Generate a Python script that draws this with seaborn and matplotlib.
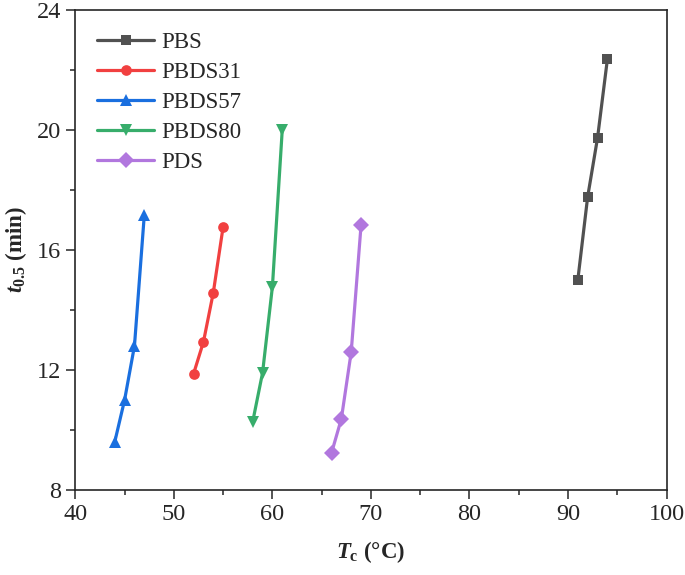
import numpy as np
import pandas as pd
import matplotlib
matplotlib.use("Agg")
import matplotlib.pyplot as plt
import seaborn as sns
from matplotlib.ticker import MultipleLocator

# data
samples = ["PBS", "PBDS31", "PBDS57", "PBDS80", "PDS"]
tc_pbs = [91, 92, 93, 94]
t05_pbs = [15.0, 17.77, 19.73, 22.35]
tc_pbds31 = [52, 53, 54, 55]
t05_pbds31 = [11.87, 12.93, 14.57, 16.77]
tc_pbds57 = [44, 45, 46, 47]
t05_pbds57 = [9.6, 11.0, 12.8, 17.17]
tc_pbds80 = [58, 59, 60, 61]
t05_pbds80 = [10.27, 11.9, 14.77, 20.0]
tc_pds = [66, 67, 68, 69]
t05_pds = [9.23, 10.37, 12.6, 16.83]

colors = ["#515151", "#F14040", "#1A6FDF", "#37AD6B", "#B177DE"]
marker_list = ["s", "o", "^", "v", "D"]
marker_sizes = [6.8, 7.7, 8.8, 8.8, 7.8]

tcs = [tc_pbs, tc_pbds31, tc_pbds57, tc_pbds80, tc_pds]
t05s = [t05_pbs, t05_pbds31, t05_pbds57, t05_pbds80, t05_pds]
rows = []
for name, xs, ys in zip(samples, tcs, t05s):
    for x, y in zip(xs, ys):
        rows.append({"sample": name, "Tc": x, "t05": y})
df = pd.DataFrame(rows)

sns.set_style("ticks")
plt.rcParams["font.family"] = ["Liberation Serif", "DejaVu Serif"]
plt.rcParams["mathtext.fontset"] = "custom"
plt.rcParams["mathtext.it"] = "Liberation Serif:italic:bold"
plt.rcParams["mathtext.bf"] = "Liberation Serif:bold"
plt.rcParams["mathtext.rm"] = "Liberation Serif"

fig, ax = plt.subplots(figsize=(6.85, 5.75), dpi=100)
fig.subplots_adjust(left=0.11, right=0.973, top=0.983, bottom=0.148)

for name, c, m, ms in zip(samples, colors, marker_list, marker_sizes):
    sub = df[df["sample"] == name]
    sns.lineplot(data=sub, x="Tc", y="t05", color=c, marker=m, markersize=ms,
                 markeredgewidth=0, linewidth=2.3, sort=False, label=name, ax=ax)

ax.set_xlim(40, 100)
ax.set_ylim(8, 24)
ax.xaxis.set_major_locator(MultipleLocator(10))
ax.xaxis.set_minor_locator(MultipleLocator(5))
ax.yaxis.set_major_locator(MultipleLocator(4))
ax.yaxis.set_minor_locator(MultipleLocator(2))
ax.tick_params(which="major", direction="out", length=6.5, width=1.1, labelsize=17.5)
ax.tick_params(which="minor", direction="out", length=3.5, width=1.1)
for sp in ax.spines.values():
    sp.set_visible(True)
    sp.set_linewidth(1.2)

ax.set_xlabel(r"$T_{\mathbf{c}}$ (°C)", fontsize=16.5, fontweight="bold", labelpad=10)
ax.set_ylabel(r"$t_{\mathbf{0.5}}$ (min)", fontsize=16.5, fontweight="bold", labelpad=6)

leg = ax.legend(loc="upper left", frameon=False, fontsize=16.5, handlelength=2.5,
                borderaxespad=0.55, labelspacing=0.4, handletextpad=0.3)

fig.savefig("out.png", dpi=100)
